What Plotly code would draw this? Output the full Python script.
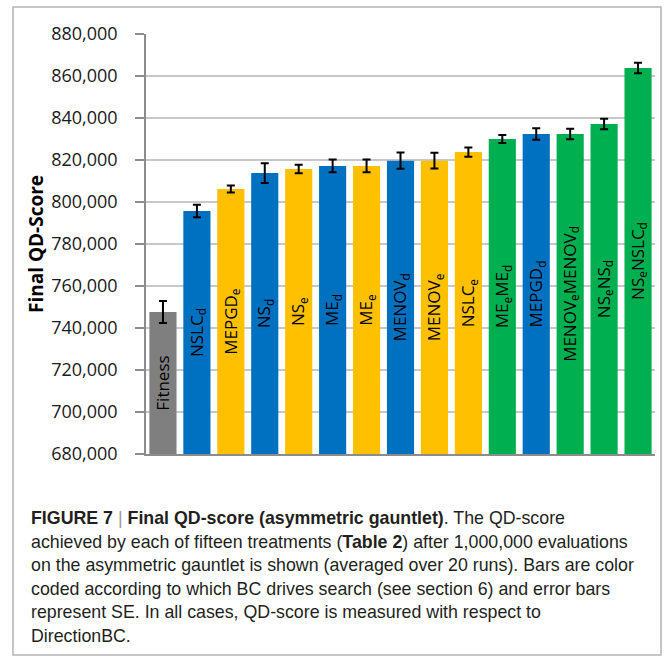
import plotly.graph_objects as go

categories = ["Fitness", "NSLC<sub>d</sub>", "MEPGD<sub>e</sub>", "NS<sub>d</sub>", "NS<sub>e</sub>",
              "ME<sub>d</sub>", "ME<sub>e</sub>", "MENOV<sub>d</sub>", "MENOV<sub>e</sub>", "NSLC<sub>e</sub>",
              "ME<sub>e</sub>ME<sub>d</sub>", "MEPGD<sub>d</sub>", "MENOV<sub>e</sub>MENOV<sub>d</sub>",
              "NS<sub>e</sub>NS<sub>d</sub>", "NS<sub>e</sub>NSLC<sub>d</sub>"]
values = [747600, 795700, 806200, 813800, 815700, 817200, 817200, 819700, 819700, 823800,
          830000, 832400, 832400, 837100, 863800]
errors = [5200, 3000, 1700, 4700, 2000, 3000, 3000, 3900, 3800, 2200, 1900, 2700, 2500, 2500, 2500]
groups = ["fitness", "d", "e", "d", "e", "d", "e", "d", "e", "e", "both", "d", "both", "both", "both"]
group_colors = {"fitness": "#7F7F7F", "d": "#0070C0", "e": "#FFC000", "both": "#00B050"}
y_min, y_max, y_step = 680000, 880000, 20000

caption_lines = [
    "<b>FIGURE 7</b> <span style='color:#999'>|</span> <b>Final QD-score (asymmetric gauntlet)</b>. The QD-score",
    "achieved by each of fifteen treatments (<b>Table 2</b>) after 1,000,000 evaluations",
    "on the asymmetric gauntlet is shown (averaged over 20 runs). Bars are color",
    "coded according to which BC drives search (see section 6) and error bars",
    "represent SE. In all cases, QD-score is measured with respect to",
    "DirectionBC.",
]

W, H = 666, 658
L, R, T, B = 146, 11, 34, 204
pw, ph = W - L - R, H - T - B


def px(x):
    return (x - L) / pw


def py(y):
    return (H - B - y) / ph


x_idx = list(range(len(categories)))
fig = go.Figure()
fig.add_trace(go.Bar(
    x=x_idx, y=[v - y_min for v in values], base=y_min,
    marker=dict(color=[group_colors[g] for g in groups], line=dict(width=0)),
    error_y=dict(type="data", array=errors, color="black", thickness=2, width=4),
    text=categories, textposition="inside", insidetextanchor="middle",
    textangle=-90, constraintext="none",
    textfont=dict(family="Open Sans", size=17, color="black"),
    hoverinfo="skip",
))

fig.update_layout(
    width=W, height=H, margin=dict(l=L, r=R, t=T, b=B, pad=0),
    paper_bgcolor="white", plot_bgcolor="white", showlegend=False, bargap=0.2,
    xaxis=dict(range=[-0.5, len(categories) - 0.5], showticklabels=False, ticks="",
               showgrid=False, showline=True, linecolor="#8C8C8C", linewidth=1.5, zeroline=False),
    yaxis=dict(range=[y_min, y_max], dtick=y_step, tick0=y_min, tickformat=",",
               showgrid=True, gridcolor="#C8C8C8", gridwidth=1.5,
               showline=True, linecolor="#8C8C8C", linewidth=1.5,
               ticks="outside", ticklen=9, tickcolor="#8C8C8C", tickwidth=1.5,
               ticklabelstandoff=14,
               tickfont=dict(family="Open Sans", size=18, color="#1A1A1A"),
               zeroline=False),
    font=dict(family="Open Sans"),
)

fig.add_annotation(text="<b>Final QD-Score</b>", xref="paper", yref="paper",
                   x=px(36), y=py(244), textangle=-90, showarrow=False,
                   font=dict(family="Open Sans", size=19, color="black"),
                   xanchor="center", yanchor="middle")

line_centers = [518, 541.5, 565, 588.5, 612, 635.5]
for txt, yc in zip(caption_lines, line_centers):
    fig.add_annotation(text=txt, xref="paper", yref="paper", x=px(29), y=py(yc),
                       xanchor="left", yanchor="middle", showarrow=False, align="left",
                       font=dict(family="Liberation Sans", size=17.8, color="#231F20"))

fig.add_shape(type="rect", xref="paper", yref="paper", x0=px(13), x1=px(661), y0=py(7), y1=py(655),
              line=dict(color="#B4B4B4", width=1.5), fillcolor="rgba(0,0,0,0)", layer="below")

fig.write_html("out.html", config={"displayModeBar": False},
               post_script="document.body.style.margin='0';document.body.style.overflow='hidden';")
